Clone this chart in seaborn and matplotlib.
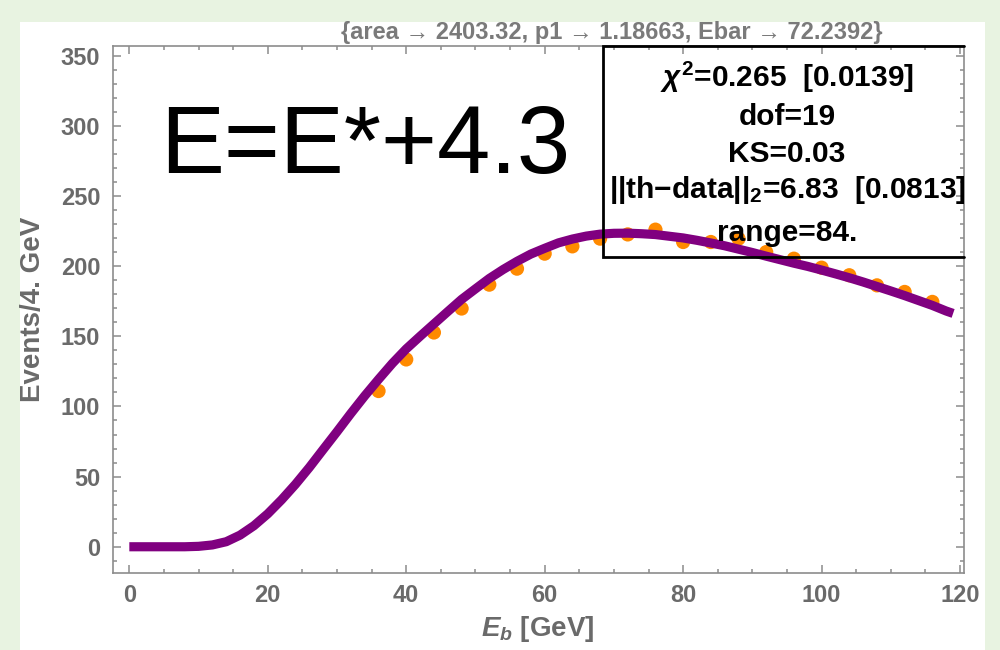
import matplotlib
matplotlib.use("Agg")
import matplotlib.pyplot as plt
from matplotlib.patches import Rectangle
from matplotlib.ticker import MultipleLocator
import seaborn as sns

# Fitted spectrum, sampled along E_b
curve_e = [0, 2, 4, 6, 8, 10, 12, 14, 16, 18, 20, 22, 24, 26, 28, 30, 32, 34, 36, 38,
           40, 42, 44, 46, 48, 50, 52, 54, 56, 58, 60, 62, 64, 66, 68, 70, 72, 74, 76, 78,
           80, 82, 84, 86, 88, 90, 92, 94, 96, 98, 100, 102, 104, 106, 108, 110, 112, 114,
           116, 118, 119]
curve_n = [0, 0, 0, 0, 0, 0.3, 1.3, 3.6, 8.3, 15, 23.5, 33.5, 44.5, 56.5, 69.3, 82, 95,
           107.5, 119.3, 130.7, 141, 150, 158.8, 167.6, 176.3, 183.8, 191.2, 197.6, 203.4,
           208.6, 212.7, 216.6, 219.3, 221.4, 222.8, 223.4, 223.5, 223.1, 222.5, 221.3,
           220.1, 218.4, 216.5, 214.5, 212.1, 209.7, 207.1, 204.6, 202.1, 199.8, 197.2,
           194.5, 191.7, 188.7, 185.5, 182.3, 179.0, 175.5, 172.0, 168.0, 166.3]

# Binned events (4 GeV bins)
data_e = [36, 40, 44, 48, 52, 56, 60, 64, 68, 72, 76, 80, 84, 88, 92, 96, 100, 104, 108, 112, 116]
data_n = [111, 133.5, 152.7, 169.8, 186.8, 198.2, 208.9, 214.1, 219.6, 222.6, 226, 217.2,
          217.2, 219.6, 210, 205.3, 198.9, 193.5, 186.3, 181.6, 174.5]

x_ticks = [0, 20, 40, 60, 80, 100, 120]
y_ticks = [0, 50, 100, 150, 200, 250, 300, 350]

title_text = "{area \u2192 2403.32, p1 \u2192 1.18663, Ebar \u2192 72.2392}"
shift_text = "E=E*+4.3"
stats_lines = [
    r"$\chi^2$=0.265  [0.0139]",
    "dof=19",
    "KS=0.03",
    "||th\u2212data||$_2$=6.83  [0.0813]",
    "range=84.",
]
x_label = r"$E_b$ [GeV]"
y_label = "Events/4. GeV"

W, H = 1000, 650

sns.set_theme(style="white")
plt.rcParams["font.family"] = ["Liberation Sans", "DejaVu Sans"]
plt.rcParams["mathtext.fontset"] = "custom"
plt.rcParams["mathtext.rm"] = "Liberation Sans:bold"
plt.rcParams["mathtext.it"] = "Liberation Sans:italic:bold"
plt.rcParams["mathtext.bf"] = "Liberation Sans:bold"


def fx(px):
    return px / W


def fy(py):
    return 1 - py / H


fig = plt.figure(figsize=(10, 6.5), dpi=100)
fig.patch.set_facecolor("#E8F3E1")
fig.add_artist(Rectangle((fx(20), 0), fx(985) - fx(20), fy(22), transform=fig.transFigure,
                         facecolor="white", edgecolor="none", zorder=-5))

left, right, top, bottom = 112.7, 963.5, 45.7, 573
ax = fig.add_axes([fx(left), fy(bottom), fx(right) - fx(left), (bottom - top) / H])
ax.set_facecolor("white")

sns.scatterplot(x=data_e, y=data_n, ax=ax, color="#FF8A00", s=105, edgecolor="none",
                linewidth=0, zorder=2)
sns.lineplot(x=curve_e, y=curve_n, ax=ax, color="#800080", linewidth=6.6, zorder=3,
             solid_capstyle="butt")

ax.set_xlim(-2.4, 120.5)
ax.set_ylim(-18.7, 357.1)

axis_gray = "#8C8C8C"
label_gray = "#6A6A6A"
for s in ax.spines.values():
    s.set_visible(True)
    s.set_color(axis_gray)
    s.set_linewidth(1.2)

ax.set_xticks(x_ticks)
ax.set_yticks(y_ticks)
ax.xaxis.set_minor_locator(MultipleLocator(5))
ax.yaxis.set_minor_locator(MultipleLocator(10))
ax.tick_params(which="both", direction="in", top=True, right=True, bottom=True, left=True,
               color=axis_gray, width=1.1)
ax.tick_params(which="major", length=5.5)
ax.tick_params(which="minor", length=3)
ax.tick_params(axis="x", which="major", pad=8, labelsize=17, labelcolor=label_gray)
ax.tick_params(axis="y", which="major", pad=9, labelsize=17, labelcolor=label_gray)
for lab in ax.get_xticklabels() + ax.get_yticklabels():
    lab.set_fontweight("bold")

ax.set_xlabel(x_label, fontsize=20, color=label_gray, fontweight="bold")
ax.set_ylabel(y_label, fontsize=20, color=label_gray, fontweight="bold")
ax.xaxis.set_label_coords(0.5, (bottom - 614) / (bottom - top))
ax.yaxis.set_label_coords((46 - left) / (right - left), 0.5)

fig.text(fx(612), fy(39), title_text, ha="center", va="baseline", fontsize=17,
         fontweight="bold", color="#7A7A7A")

ax.text(fx(160), fy(173), shift_text, transform=fig.transFigure, ha="left",
        va="baseline", fontsize=69, color="black")

# Fit-statistics panel
x0 = 68.45
y0 = 206.5
xmax = ax.get_xlim()[1]
ymax = ax.get_ylim()[1]
ax.plot([xmax, x0, x0, xmax], [ymax, ymax, y0, y0], color="black", linewidth=2,
        clip_on=False, zorder=4, solid_joinstyle="miter")

baselines = [87, 125, 162, 198, 241]
for line, b in zip(stats_lines, baselines):
    ax.text(fx(787), fy(b), line, transform=fig.transFigure, ha="center", va="baseline",
            fontsize=21.5, fontweight="bold", color="black", clip_on=True, zorder=5)

fig.savefig("out.png", dpi=100, facecolor=fig.get_facecolor())
